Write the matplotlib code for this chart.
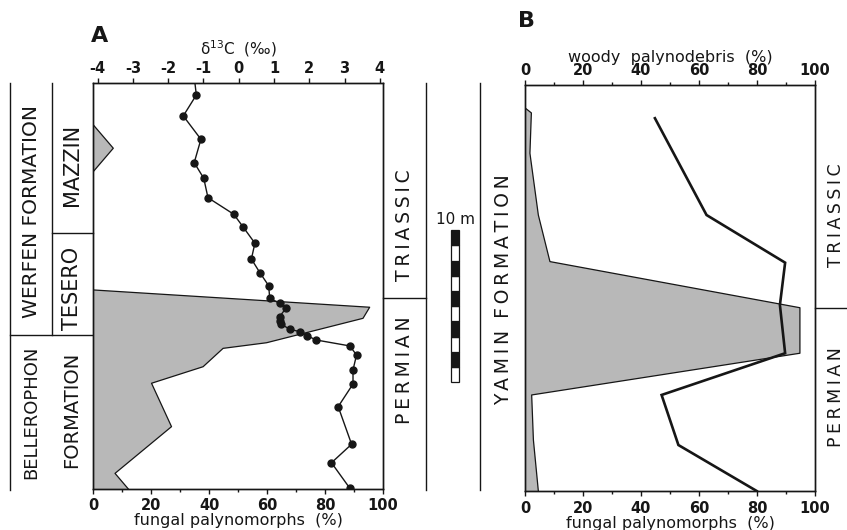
import matplotlib
matplotlib.use('Agg')
import matplotlib.pyplot as plt
from matplotlib.transforms import blended_transform_factory
from matplotlib.ticker import MultipleLocator
from matplotlib.patches import Rectangle

plt.rcParams['font.family'] = ['DejaVu Sans']
plt.rcParams['axes.unicode_minus'] = False

# ---------------- data (height above base of section, m) ----------------
# Panel A: delta13C (first value = where the curve leaves the top of the frame)
a_c13_height = [26.76, 25.97, 24.59, 23.05, 21.51, 20.48, 19.20, 18.11, 17.29,
                16.20, 15.16, 14.26, 13.40, 12.57, 12.24, 11.95, 11.36, 11.09,
                10.88, 10.53, 10.37, 10.09, 9.82, 9.43, 8.83, 7.85, 6.92, 5.43,
                2.95, 1.73, 0.05]
a_c13 = [-1.24, -1.20, -1.57, -1.07, -1.26, -0.99, -0.87, -0.14, 0.12,
         0.46, 0.36, 0.60, 0.85, 0.88, 1.16, 1.35, 1.16, 1.16,
         1.19, 1.45, 1.73, 1.95, 2.20, 3.15, 3.34, 3.24, 3.24, 2.82,
         3.20, 2.63, 3.15]
# Panel A: fungal palynomorphs (%)
a_fungal_height = [0.0, 1.03, 4.11, 6.97, 8.06, 9.27, 9.64, 11.25, 11.98,
                   13.12, 20.92, 22.46, 24.0]
a_fungal = [12.1, 7.5, 27.0, 20.1, 37.9, 44.8, 59.8, 93.1, 95.4,
            0.0, 0.0, 6.9, 0.0]
# Panel B: fungal palynomorphs (%) and woody palynodebris (%)
b_fungal_height = [0.0, 3.36, 6.33, 9.08, 12.08, 15.12, 18.19, 22.26, 24.92, 25.25]
b_fungal = [4.6, 2.9, 2.3, 94.8, 94.8, 8.6, 4.6, 1.7, 2.2, 0.0]
b_woody_height = [0.0, 3.03, 6.33, 9.08, 12.26, 15.05, 18.19, 24.57]
b_woody = [79.9, 52.9, 47.1, 89.7, 87.9, 89.7, 62.6, 44.8]

# stratigraphic boundaries (m)
a_top = 26.76
a_mazzin_base = 16.86
a_werfen_base = 10.15
a_pt_boundary = 12.59
b_pt_boundary = 12.06
scale_bar_base = 7.05
scale_bar_len = 10

K = '#161616'
FILL = '#b8b8b8'
TS = '\u2009'  # thin space used as letter spacing

W, H = 847, 530
fig = plt.figure(figsize=(W / 100, H / 100), dpi=100)
fig.patch.set_facecolor('white')


def rect(l, t, r, b):
    return [l / W, 1 - b / H, (r - l) / W, (b - t) / H]


def spaced(word):
    return TS.join(word)


ov = fig.add_axes([0, 0, 1, 1], zorder=0)
ov.set_xlim(0, W)
ov.set_ylim(H, 0)
ov.axis('off')

axA = fig.add_axes(rect(93.3, 83, 383, 489), zorder=2)
axB = fig.add_axes(rect(525, 85, 815, 491), zorder=2)
for ax in (axA, axB):
    ax.set_ylim(0, a_top)
    ax.patch.set_alpha(0)
    ax.tick_params(left=False, labelleft=False, right=False)
    for s in ax.spines.values():
        s.set_linewidth(1.0)
        s.set_color(K)

tick_font = dict(labelsize=10.5, width=1.0, colors=K)

# ---------- Panel A ----------
axA.fill_betweenx(a_fungal_height, 0, a_fungal, facecolor=FILL, edgecolor='none', zorder=1)
axA.plot(a_fungal, a_fungal_height, color=K, lw=0.9, zorder=2)
axA.set_xlim(0, 100)
axA.xaxis.set_major_locator(MultipleLocator(20))
axA.xaxis.set_minor_locator(MultipleLocator(10))
axA.tick_params(axis='x', which='major', direction='out', length=3.5, pad=3, **tick_font)
axA.tick_params(axis='x', which='minor', direction='out', length=2.2, width=1.0, colors=K)
for lab in axA.get_xticklabels():
    lab.set_fontweight('bold')
axA.set_xlabel('fungal palynomorphs  (%)', fontsize=11.5, color=K)
axA.xaxis.set_label_coords(0.5, -0.058)
axA.xaxis.label.set_va('top')

axA2 = axA.twiny()
axA2.set_zorder(3)
axA2.patch.set_alpha(0)
axA2.set_xlim(-4.12, 4.09)
axA2.set_ylim(0, a_top)
axA2.xaxis.set_major_locator(MultipleLocator(1))
axA2.tick_params(axis='x', which='major', direction='out', length=3.5, pad=1.2, **tick_font)
axA2.tick_params(left=False, labelleft=False, right=False, labelright=False)
for s in axA2.spines.values():
    s.set_linewidth(1.0)
    s.set_color(K)
axA2.set_xticks(range(-4, 5))
axA2.set_xticklabels([str(v) for v in range(-4, 5)], fontweight='bold')
axA2.plot(a_c13, a_c13_height, color=K, lw=1.0, marker='o', markersize=5,
          markevery=list(range(1, len(a_c13))), zorder=4)
axA2.set_xlabel('δ$^{13}$C  (‰)', fontsize=11, color=K)
axA2.xaxis.set_label_coords(0.5, 1.058)
axA2.xaxis.label.set_va('bottom')

# ---------- Panel B ----------
axB.fill_betweenx(b_fungal_height, 0, b_fungal, facecolor=FILL, edgecolor='none', zorder=1)
axB.plot(b_fungal, b_fungal_height, color=K, lw=0.9, zorder=2)
axB.set_xlim(0, 100)
axB.xaxis.set_major_locator(MultipleLocator(20))
axB.xaxis.set_minor_locator(MultipleLocator(10))
axB.tick_params(axis='x', which='major', direction='out', length=3.5, pad=4, **tick_font)
axB.tick_params(axis='x', which='minor', direction='out', length=2.2, width=1.0, colors=K)
for lab in axB.get_xticklabels():
    lab.set_fontweight('bold')
axB.set_xlabel('fungal palynomorphs  (%)', fontsize=11.5, color=K)
axB.xaxis.set_label_coords(0.5, -0.062)
axB.xaxis.label.set_va('top')

axB2 = axB.twiny()
axB2.set_zorder(3)
axB2.patch.set_alpha(0)
axB2.set_xlim(0, 100)
axB2.set_ylim(0, a_top)
axB2.xaxis.set_major_locator(MultipleLocator(20))
axB2.xaxis.set_minor_locator(MultipleLocator(10))
axB2.tick_params(axis='x', which='major', direction='out', length=3.5, pad=1.5, **tick_font)
axB2.tick_params(axis='x', which='minor', direction='out', length=2.2, width=1.0, colors=K)
axB2.tick_params(left=False, labelleft=False, right=False, labelright=False)
for s in axB2.spines.values():
    s.set_linewidth(1.0)
    s.set_color(K)
for lab in axB2.get_xticklabels():
    lab.set_fontweight('bold')
axB2.plot(b_woody, b_woody_height, color=K, lw=1.9, zorder=4, solid_joinstyle='miter')
axB2.set_xlabel('woody  palynodebris  (%)', fontsize=11.5, color=K)
axB2.xaxis.set_label_coords(0.5, 1.05)
axB2.xaxis.label.set_va('bottom')

# ---------- stratigraphic columns (x in figure pixels, y in section height) ----------
tA = blended_transform_factory(ov.transData, axA.transData)
tB = blended_transform_factory(ov.transData, axB.transData)
lkw = dict(color=K, lw=1.0, clip_on=False)
yb = -0.07
ov.plot([10, 10], [yb, a_top], transform=tA, **lkw)
ov.plot([51.7, 51.7], [a_werfen_base, a_top], transform=tA, **lkw)
ov.plot([10, 93.3], [a_werfen_base, a_werfen_base], transform=tA, **lkw)
ov.plot([51.7, 93.3], [a_mazzin_base, a_mazzin_base], transform=tA, **lkw)
ov.plot([426, 426], [yb, a_top], transform=tA, **lkw)
ov.plot([383, 426], [a_pt_boundary, a_pt_boundary], transform=tA, **lkw)
ov.plot([480, 480], [yb, a_top], transform=tA, **lkw)
ov.plot([815, 847], [b_pt_boundary, b_pt_boundary], transform=tB, **lkw)

col_kw = dict(rotation=90, ha='center', va='center', color=K, fontsize=14.5)
ov.text(31.7, 212, 'WERFEN FORMATION', **col_kw)
ov.text(31.7, 412, 'BELLEROPHON', rotation=90, ha='center', va='center', color=K, fontsize=13)
ov.text(72, 410, 'FORMATION', rotation=90, ha='center', va='center', color=K, fontsize=14)
ov.text(72.5, 165, 'MAZZIN', rotation=90, ha='center', va='center', color=K, fontsize=15)
ov.text(72.5, 288, 'TESERO', rotation=90, ha='center', va='center', color=K, fontsize=15)
per_kw = dict(rotation=90, ha='center', va='center', color=K, fontsize=13.5)
ov.text(405, 225, spaced('TRIASSIC'), **per_kw)
ov.text(405, 370, spaced('PERMIAN'), **per_kw)
perB_kw = dict(rotation=90, ha='center', va='center', color=K, fontsize=12.5)
ov.text(836, 215, spaced('TRIASSIC'), **perB_kw)
ov.text(836, 397, spaced('PERMIAN'), **perB_kw)
ov.text(504, 290, spaced('YAMIN') + '  ' + spaced('FORMATION'), **per_kw)

# scale bar (10 m, 1 m segments)
for i in range(scale_bar_len):
    ov.add_patch(Rectangle((451, scale_bar_base + i), 8, 1, transform=tA,
                           facecolor=K if (scale_bar_len - 1 - i) % 2 == 0 else 'white',
                           edgecolor=K, lw=0.9, clip_on=False))
ov.text(455, 220, '10 m', ha='center', va='center', fontsize=11, color=K)

# panel letters
ov.text(99.5, 36, 'A', ha='center', va='center', fontsize=16, fontweight='bold', color=K)
ov.text(526.5, 21, 'B', ha='center', va='center', fontsize=16, fontweight='bold', color=K)

fig.savefig('out.png', dpi=100, facecolor='white')
